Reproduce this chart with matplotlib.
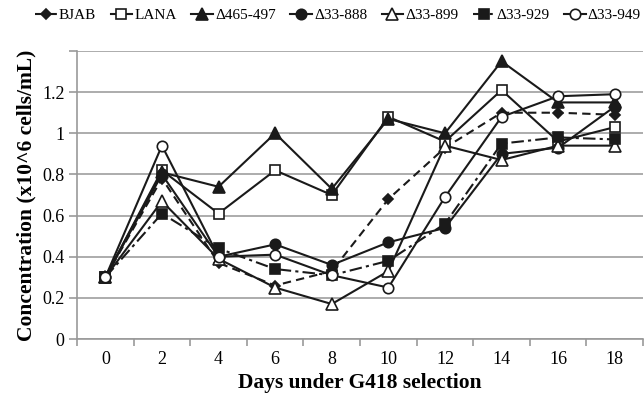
import matplotlib
matplotlib.use("Agg")
import matplotlib.pyplot as plt
from matplotlib.ticker import FixedLocator

plt.rcParams['font.family'] = ['Liberation Serif', 'DejaVu Serif']

days = [0, 2, 4, 6, 8, 10, 12, 14, 16, 18]
series_names = ["BJAB", "LANA", "Δ465-497", "Δ33-888", "Δ33-899", "Δ33-929", "Δ33-949"]
bjab   = [0.30, 0.78, 0.37, 0.26, 0.33, 0.68, 0.93, 1.10, 1.10, 1.09]
lana   = [0.30, 0.82, 0.61, 0.82, 0.70, 1.08, 0.96, 1.21, 0.96, 1.03]
d465   = [0.30, 0.81, 0.74, 1.00, 0.73, 1.07, 1.00, 1.35, 1.15, 1.15]
d888   = [0.30, 0.80, 0.40, 0.46, 0.36, 0.47, 0.54, 0.90, 0.93, 1.13]
d899   = [0.30, 0.67, 0.39, 0.25, 0.17, 0.33, 0.94, 0.87, 0.94, 0.94]
d929   = [0.30, 0.61, 0.44, 0.34, 0.31, 0.38, 0.56, 0.95, 0.98, 0.97]
d949   = [0.30, 0.94, 0.40, 0.41, 0.31, 0.25, 0.69, 1.08, 1.18, 1.19]
yticks = [0, 0.2, 0.4, 0.6, 0.8, 1.0, 1.2, 1.4]
ytick_labels = ["0", "0.2", "0.4", "0.6", "0.8", "1", "1.2", ""]

data = [bjab, lana, d465, d888, d899, d929, d949]
styles = [
    dict(marker='D', mfc='#1a1a1a', ls=(0, (4, 2.5)), ms=5.5),
    dict(marker='s', mfc='white', ls='-', ms=7.5),
    dict(marker='^', mfc='#1a1a1a', ls='-', ms=8.5),
    dict(marker='o', mfc='#1a1a1a', ls='-', ms=7.5),
    dict(marker='^', mfc='white', ls='-', ms=8.5),
    dict(marker='s', mfc='#1a1a1a', ls=(0, (6, 2, 1.5, 2)), ms=7.5),
    dict(marker='o', mfc='white', ls='-', ms=7.5),
]

fig = plt.figure(figsize=(6.44, 4.0), dpi=100)
ax = fig.add_axes([0.1196, 0.1525, 0.879, 0.72])

x = list(range(len(days)))
handles = []
for name, vals, st in zip(series_names, data, styles):
    h, = ax.plot(x, vals, color='#1a1a1a', lw=1.5, marker=st['marker'],
                 mfc=st['mfc'], mec='#1a1a1a', mew=1.2, ms=st['ms'],
                 linestyle=st['ls'], label=name, clip_on=False)
    handles.append(h)

ax.set_xlim(-0.5, len(days) - 0.5)
ax.set_ylim(0, 1.4)
ax.set_xticks(x)
ax.set_xticklabels([str(d) for d in days], fontsize=13)
ax.xaxis.set_minor_locator(FixedLocator([i - 0.5 for i in range(len(days) + 1)]))
ax.tick_params(axis='x', which='major', length=0, pad=9)
ax.tick_params(axis='x', which='minor', length=5, color='#999999', width=1.2, direction='out')
ax.set_yticks(yticks)
ax.set_yticklabels(ytick_labels, fontsize=13)
ax.tick_params(axis='y', length=6, color='#999999', width=1.2, direction='out', pad=3)

ax.yaxis.grid(True, color='#a6a6a6', lw=1.3)
ax.set_axisbelow(True)
for s in ['top', 'right']:
    ax.spines[s].set_visible(False)
for s in ['left', 'bottom']:
    ax.spines[s].set_color('#999999')
    ax.spines[s].set_linewidth(1.2)

ax.set_xlabel("Days under G418 selection", fontsize=15.5, fontweight='bold', labelpad=3)
ax.set_ylabel("Concentration (x10^6 cells/mL)", fontsize=15.5, fontweight='bold', labelpad=4)

fig.legend(handles=handles, loc='center', bbox_to_anchor=(0.525, 0.962), ncol=7,
           frameon=False, fontsize=11, handlelength=1.4, handletextpad=0.15,
           columnspacing=0.95, borderaxespad=0)

fig.savefig("out.png", dpi=100)
